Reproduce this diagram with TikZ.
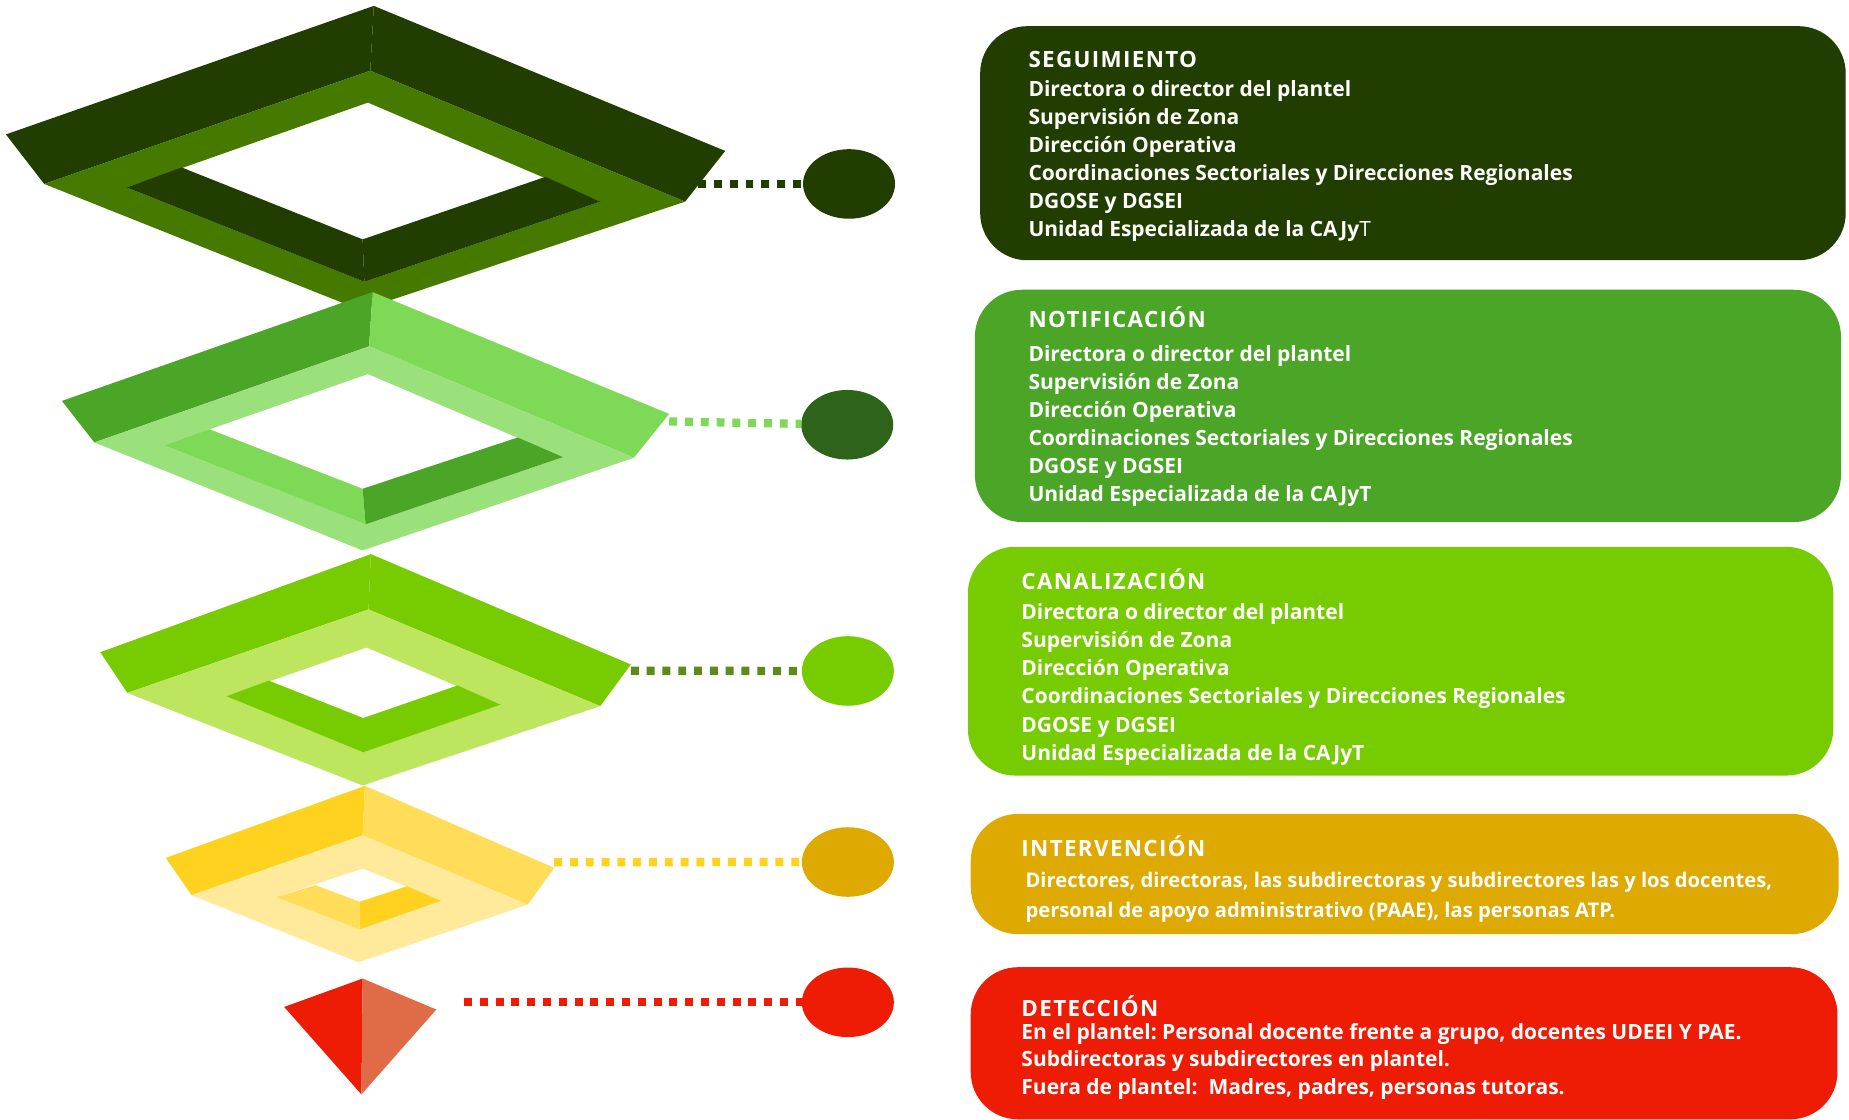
\documentclass[tikz,border=0pt]{standalone}
\usepackage{fontspec}
\setmainfont{Open Sans}
\newfontfamily\ttlfont[LetterSpace=6]{Open Sans}
\usetikzlibrary{shapes.geometric}
\frenchspacing
\definecolor{dkgreen}{HTML}{223D00}
\definecolor{bandA}{HTML}{457900}
\definecolor{midgreen}{HTML}{4BA526}
\definecolor{ltgreen}{HTML}{7ED957}
\definecolor{bandB}{HTML}{9AE17C}
\definecolor{circB}{HTML}{2E6419}
\definecolor{lime}{HTML}{76CC00}
\definecolor{bandC}{HTML}{BDE55D}
\definecolor{olive}{HTML}{5E8A1A}
\definecolor{yelA}{HTML}{FFD21F}
\definecolor{yelB}{HTML}{FFDD59}
\definecolor{bandD}{HTML}{FFEA9C}
\definecolor{gold}{HTML}{DEA900}
\definecolor{redA}{HTML}{EE1C05}
\definecolor{redB}{HTML}{E06C47}
\newcommand{\drawframe}[6]{%
  \fill[#2] (#1T) -- (#1L) -- (#1L2) -- (#1BT) -- cycle;
  \fill[#3] (#1T) -- (#1BT) -- (#1R2) -- (#1R) -- cycle;
  \fill[#4,even odd rule] (#1BT) -- (#1L2) -- (#1B) -- (#1R2) -- cycle
     (#1IT) -- (#1IL) -- (#1IB) -- (#1IR) -- cycle;
  \fill[#5] (#1IL) -- (#1IB) -- (#1HB) -- (#1HL) -- cycle;
  \fill[#6] (#1IB) -- (#1IR) -- (#1HR) -- (#1HB) -- cycle;
}
\tikzset{
  dot/.style={ellipse, minimum width=78pt, minimum height=59pt, inner sep=0pt, fill=#1},
  connector/.style={draw=#1, line width=7pt, dash pattern=on 6.7pt off 6.7pt},
  panel/.style={rectangle, rounded corners=40pt, fill=#1, anchor=north west, inner sep=0pt},
  ttl/.style={anchor=base west, inner sep=0pt, text=white, font=\ttlfont\fontsize{19}{24}\selectfont\bfseries},
  bodytext/.style={anchor=base west, inner sep=0pt, text=white, align=left, font=\fontsize{17.8}{#1}\selectfont\bfseries\frenchspacing},
  smalltext/.style={anchor=base west, inner sep=0pt, text=white, align=left, font=\fontsize{17.1}{#1}\selectfont\bfseries\frenchspacing},
}
\begin{document}
\begin{tikzpicture}[x=1pt,y=-1pt]
\useasboundingbox (0,0) rectangle (1568,949);
% ---------- frame 1
\coordinate (aT) at (317,5);
\coordinate (aL) at (5,114);
\coordinate (aL2) at (37.5,156);
\coordinate (aBT) at (314,60);
\coordinate (aR) at (615,128);
\coordinate (aR2) at (581,171);
\coordinate (aB) at (306,263);
\coordinate (aIT) at (312,87);
\coordinate (aIL) at (107.5,159);
\coordinate (aIB) at (309,239);
\coordinate (aIR) at (509,171);
\coordinate (aHL) at (154,142);
\coordinate (aHB) at (307.5,203);
\coordinate (aHR) at (462.5,150);
\drawframe{a}{dkgreen}{dkgreen}{bandA}{dkgreen}{dkgreen}
% ---------- frame 2
\coordinate (bT) at (316,247.7);
\coordinate (bL) at (52.5,340);
\coordinate (bL2) at (80,375.2);
\coordinate (bBT) at (313,293.7);
\coordinate (bR) at (567.5,351);
\coordinate (bR2) at (537.5,388.2);
\coordinate (bB) at (307.5,466.8);
\coordinate (bIT) at (312,317.2);
\coordinate (bIL) at (139,377.6);
\coordinate (bIB) at (310,444.7);
\coordinate (bIR) at (477.5,387.6);
\coordinate (bHL) at (177.5,364);
\coordinate (bHB) at (307.5,414.5);
\coordinate (bHR) at (439,371);
\drawframe{b}{midgreen}{ltgreen}{bandB}{ltgreen}{midgreen}
% ---------- frame 3
\coordinate (cT) at (314.5,469.9);
\coordinate (cL) at (85,553.1);
\coordinate (cL2) at (108,587.6);
\coordinate (cBT) at (312.5,516.8);
\coordinate (cR) at (535,563.5);
\coordinate (cR2) at (509,598.8);
\coordinate (cB) at (307.5,666.1);
\coordinate (cIT) at (311,549.1);
\coordinate (cIL) at (192,590.4);
\coordinate (cIB) at (308,638);
\coordinate (cIR) at (424.5,597.6);
\coordinate (cHL) at (228,577.2);
\coordinate (cHB) at (308,608.9);
\coordinate (cHR) at (388,581.3);
\drawframe{c}{lime}{lime}{bandC}{lime}{lime}
% ---------- frame 4
\coordinate (dT) at (309.5,666.4);
\coordinate (dL) at (140.5,727.5);
\coordinate (dL2) at (162.5,759.1);
\coordinate (dBT) at (307.5,708.4);
\coordinate (dR) at (470,735.9);
\coordinate (dR2) at (447.5,767.2);
\coordinate (dB) at (304,816);
\coordinate (dIT) at (307.5,736.6);
\coordinate (dIL) at (234,760.7);
\coordinate (dIB) at (305,788.2);
\coordinate (dIR) at (374,763.8);
\coordinate (dHL) at (267.5,750.6);
\coordinate (dHB) at (305,764.7);
\coordinate (dHR) at (345,751.6);
\drawframe{d}{yelA}{yelB}{bandD}{yelB}{yelA}
% ---------- pyramid
\coordinate (pT) at (307.5,829.8);
\coordinate (pL) at (241,853.9);
\coordinate (pR) at (370,856.1);
\coordinate (pB) at (306.5,928.1);
\fill[redA] (pT) -- (pL) -- (pB) -- cycle;
\fill[redB] (pT) -- (pR) -- (pB) -- cycle;
% ---------- circles
\node[dot=dkgreen] (c1) at (720,156) {};
\node[dot=circB] (c2) at (718.5,360.2) {};
\node[dot=lime] (c3) at (719,569) {};
\node[dot=gold] (c4) at (719,731) {};
\node[dot=redA] (c5) at (719,850) {};
% ---------- connectors
\coordinate (e1) at (592,156);
\coordinate (e2) at (567.5,357.4);
\coordinate (e3) at (535,568.8);
\coordinate (e4) at (470,731.2);
\coordinate (e5) at (393.5,850);
\draw[connector=dkgreen] (e1) -- (c1);
\draw[connector=ltgreen] (e2) -- (c2);
\draw[connector=olive] (e3) -- (c3);
\draw[connector=yelA] (e4) -- (c4);
\draw[connector=redA] (e5) -- (c5);
% ---------- panels
\node[panel=dkgreen, minimum width=734pt, minimum height=198.5pt] (p1) at (831,22) {};
\node[panel=midgreen, minimum width=734.5pt, minimum height=197pt] (p2) at (826.5,245.5) {};
\node[panel=lime, minimum width=734pt, minimum height=194pt] (p3) at (820.5,463.5) {};
\node[panel=gold, minimum width=736pt, minimum height=102pt] (p4) at (823,690) {};
\node[panel=redA, minimum width=735pt, minimum height=129pt] (p5) at (823,820) {};
% ---------- texts (base anchor = baseline of last line)
\node[ttl] (t1) at (872,57.4) {SEGUIMIENTO};
\node[bodytext=23.6] (x1) at (872,200.2) {Directora o director del plantel\\Supervisión de Zona\\Dirección Operativa\\Coordinaciones Sectoriales y Direcciones Regionales\\DGOSE y DGSEI\\Unidad Especializada de la CAJy{\mdseries T}};
\node[ttl] (t2) at (872,278) {NOTIFICACIÓN};
\node[bodytext=23.7] (x2) at (872,425.1) {Directora o director del plantel\\Supervisión de Zona\\Dirección Operativa\\Coordinaciones Sectoriales y Direcciones Regionales\\DGOSE y DGSEI\\Unidad Especializada de la CAJyT};
\node[ttl] (t3) at (866,499.6) {CANALIZACIÓN};
\node[bodytext=23.9] (x3) at (866,644.8) {Directora o director del plantel\\Supervisión de Zona\\Dirección Operativa\\Coordinaciones Sectoriales y Direcciones Regionales\\DGOSE y DGSEI\\Unidad Especializada de la CAJyT};
\node[ttl] (t4) at (866,726.2) {INTERVENCIÓN};
\node[smalltext=25.7] (x4) at (869.5,777.9) {Directores, directoras, las subdirectoras y subdirectores las y los docentes,\\personal de apoyo administrativo (PAAE), las personas ATP.};
\node[ttl] (t5) at (866,861.8) {DETECCIÓN};
\node[bodytext=23.6] (x5) at (866,928.4) {En el plantel: Personal docente frente a grupo, docentes UDEEI Y PAE.\\Subdirectoras y subdirectores en plantel.\\Fuera de plantel:\ \ Madres, padres, personas tutoras.};
\end{tikzpicture}
\end{document}
